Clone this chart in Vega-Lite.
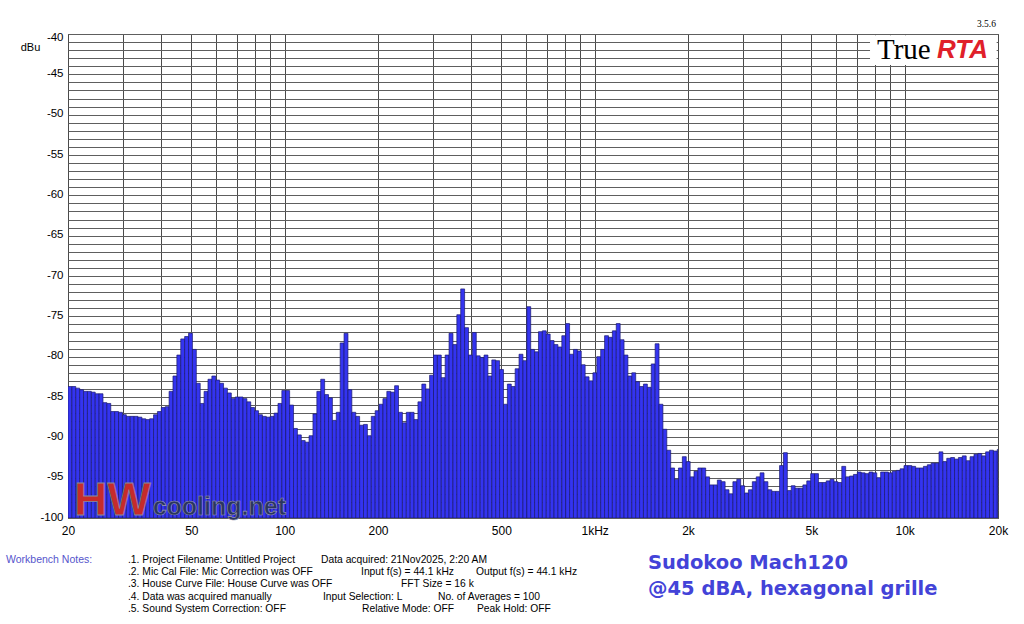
{
  "$schema": "https://vega.github.io/schema/vega-lite/v6.json",
  "width": 930,
  "height": 484,
  "autosize": {"type": "none"},
  "padding": {"left": 68, "top": 34, "right": 26, "bottom": 106},
  "background": "white",
  "config": {
    "view": {"stroke": "#404040", "strokeWidth": 1},
    "font": "Liberation Sans"
  },
  "layer": [
    {
      "data": {
        "values": [
          {"lo": 20, "hi": 20.586, "level": -83.7},
          {"lo": 20.586, "hi": 21.189, "level": -83.7},
          {"lo": 21.189, "hi": 21.81, "level": -83.9},
          {"lo": 21.81, "hi": 22.449, "level": -84.1},
          {"lo": 22.449, "hi": 23.107, "level": -84.3},
          {"lo": 23.107, "hi": 23.784, "level": -84.3},
          {"lo": 23.784, "hi": 24.481, "level": -84.4},
          {"lo": 24.481, "hi": 25.198, "level": -84.6},
          {"lo": 25.198, "hi": 25.937, "level": -84.6},
          {"lo": 25.937, "hi": 26.697, "level": -85.7},
          {"lo": 26.697, "hi": 27.479, "level": -85.8},
          {"lo": 27.479, "hi": 28.284, "level": -86.8},
          {"lo": 28.284, "hi": 29.113, "level": -86.8},
          {"lo": 29.113, "hi": 29.966, "level": -86.9},
          {"lo": 29.966, "hi": 30.844, "level": -87.2},
          {"lo": 30.844, "hi": 31.748, "level": -87.4},
          {"lo": 31.748, "hi": 32.678, "level": -87.4},
          {"lo": 32.678, "hi": 33.636, "level": -87.4},
          {"lo": 33.636, "hi": 34.621, "level": -87.5},
          {"lo": 34.621, "hi": 35.636, "level": -87.7},
          {"lo": 35.636, "hi": 36.68, "level": -87.8},
          {"lo": 36.68, "hi": 37.755, "level": -87.7},
          {"lo": 37.755, "hi": 38.861, "level": -87.2},
          {"lo": 38.861, "hi": 40, "level": -86.8},
          {"lo": 40, "hi": 41.172, "level": -86.3},
          {"lo": 41.172, "hi": 42.378, "level": -86.2},
          {"lo": 42.378, "hi": 43.62, "level": -84.3},
          {"lo": 43.62, "hi": 44.898, "level": -82.4},
          {"lo": 44.898, "hi": 46.214, "level": -79.8},
          {"lo": 46.214, "hi": 47.568, "level": -77.8},
          {"lo": 47.568, "hi": 48.962, "level": -77.5},
          {"lo": 48.962, "hi": 50.397, "level": -77.1},
          {"lo": 50.397, "hi": 51.874, "level": -79.1},
          {"lo": 51.874, "hi": 53.394, "level": -83.3},
          {"lo": 53.394, "hi": 54.959, "level": -85.8},
          {"lo": 54.959, "hi": 56.569, "level": -84.3},
          {"lo": 56.569, "hi": 58.226, "level": -82.8},
          {"lo": 58.226, "hi": 59.932, "level": -82.4},
          {"lo": 59.932, "hi": 61.688, "level": -82.9},
          {"lo": 61.688, "hi": 63.496, "level": -83.3},
          {"lo": 63.496, "hi": 65.357, "level": -83.9},
          {"lo": 65.357, "hi": 67.272, "level": -84.5},
          {"lo": 67.272, "hi": 69.243, "level": -85.2},
          {"lo": 69.243, "hi": 71.272, "level": -85.0},
          {"lo": 71.272, "hi": 73.36, "level": -85.0},
          {"lo": 73.36, "hi": 75.51, "level": -85.2},
          {"lo": 75.51, "hi": 77.722, "level": -85.6},
          {"lo": 77.722, "hi": 80, "level": -86.3},
          {"lo": 80, "hi": 82.344, "level": -86.7},
          {"lo": 82.344, "hi": 84.757, "level": -87.2},
          {"lo": 84.757, "hi": 87.241, "level": -87.4},
          {"lo": 87.241, "hi": 89.797, "level": -87.5},
          {"lo": 89.797, "hi": 92.428, "level": -87.4},
          {"lo": 92.428, "hi": 95.137, "level": -87.0},
          {"lo": 95.137, "hi": 97.925, "level": -85.8},
          {"lo": 97.925, "hi": 100.794, "level": -84.2},
          {"lo": 100.794, "hi": 103.747, "level": -84.2},
          {"lo": 103.747, "hi": 106.787, "level": -86.0},
          {"lo": 106.787, "hi": 109.918, "level": -88.9},
          {"lo": 109.918, "hi": 113.137, "level": -89.7},
          {"lo": 113.137, "hi": 116.452, "level": -90.4},
          {"lo": 116.452, "hi": 119.865, "level": -90.6},
          {"lo": 119.865, "hi": 123.377, "level": -89.8},
          {"lo": 123.377, "hi": 126.992, "level": -87.1},
          {"lo": 126.992, "hi": 130.714, "level": -84.3},
          {"lo": 130.714, "hi": 134.543, "level": -82.8},
          {"lo": 134.543, "hi": 138.486, "level": -84.7},
          {"lo": 138.486, "hi": 142.544, "level": -85.1},
          {"lo": 142.544, "hi": 146.721, "level": -87.9},
          {"lo": 146.721, "hi": 151.02, "level": -86.9},
          {"lo": 151.02, "hi": 155.445, "level": -78.3},
          {"lo": 155.445, "hi": 160, "level": -77.1},
          {"lo": 160, "hi": 164.688, "level": -84.1},
          {"lo": 164.688, "hi": 169.514, "level": -86.9},
          {"lo": 169.514, "hi": 174.482, "level": -87.4},
          {"lo": 174.482, "hi": 179.594, "level": -88.5},
          {"lo": 179.594, "hi": 184.856, "level": -88.4},
          {"lo": 184.856, "hi": 190.274, "level": -89.8},
          {"lo": 190.274, "hi": 195.85, "level": -87.4},
          {"lo": 195.85, "hi": 201.587, "level": -86.7},
          {"lo": 201.587, "hi": 207.494, "level": -85.9},
          {"lo": 207.494, "hi": 213.574, "level": -85.2},
          {"lo": 213.574, "hi": 219.835, "level": -84.3},
          {"lo": 219.835, "hi": 226.274, "level": -84.4},
          {"lo": 226.274, "hi": 232.904, "level": -83.6},
          {"lo": 232.904, "hi": 239.73, "level": -86.9},
          {"lo": 239.73, "hi": 246.754, "level": -88.2},
          {"lo": 246.754, "hi": 253.984, "level": -86.9},
          {"lo": 253.984, "hi": 261.427, "level": -86.9},
          {"lo": 261.427, "hi": 269.086, "level": -87.8},
          {"lo": 269.086, "hi": 276.971, "level": -85.6},
          {"lo": 276.971, "hi": 285.088, "level": -83.4},
          {"lo": 285.088, "hi": 293.442, "level": -84.0},
          {"lo": 293.442, "hi": 302.04, "level": -82.3},
          {"lo": 302.04, "hi": 310.89, "level": -79.8},
          {"lo": 310.89, "hi": 320, "level": -79.8},
          {"lo": 320, "hi": 329.376, "level": -82.6},
          {"lo": 329.376, "hi": 339.027, "level": -79.8},
          {"lo": 339.027, "hi": 348.963, "level": -77.1},
          {"lo": 348.963, "hi": 359.187, "level": -78.5},
          {"lo": 359.187, "hi": 369.712, "level": -74.8},
          {"lo": 369.712, "hi": 380.547, "level": -71.6},
          {"lo": 380.547, "hi": 391.699, "level": -76.4},
          {"lo": 391.699, "hi": 403.174, "level": -79.8},
          {"lo": 403.174, "hi": 414.989, "level": -77.0},
          {"lo": 414.989, "hi": 427.149, "level": -79.9},
          {"lo": 427.149, "hi": 439.67, "level": -80.1},
          {"lo": 439.67, "hi": 452.547, "level": -79.8},
          {"lo": 452.547, "hi": 465.808, "level": -82.4},
          {"lo": 465.808, "hi": 479.459, "level": -80.4},
          {"lo": 479.459, "hi": 493.507, "level": -80.5},
          {"lo": 493.507, "hi": 507.968, "level": -81.6},
          {"lo": 507.968, "hi": 522.854, "level": -85.9},
          {"lo": 522.854, "hi": 538.173, "level": -83.4},
          {"lo": 538.173, "hi": 553.942, "level": -83.7},
          {"lo": 553.942, "hi": 570.176, "level": -81.5},
          {"lo": 570.176, "hi": 586.883, "level": -79.7},
          {"lo": 586.883, "hi": 604.08, "level": -80.5},
          {"lo": 604.08, "hi": 621.779, "level": -73.8},
          {"lo": 621.779, "hi": 640, "level": -79.1},
          {"lo": 640, "hi": 658.75, "level": -79.4},
          {"lo": 658.75, "hi": 678.05, "level": -76.9},
          {"lo": 678.05, "hi": 697.93, "level": -76.8},
          {"lo": 697.93, "hi": 718.37, "level": -77.2},
          {"lo": 718.37, "hi": 739.42, "level": -78.0},
          {"lo": 739.42, "hi": 761.09, "level": -78.5},
          {"lo": 761.09, "hi": 783.4, "level": -78.8},
          {"lo": 783.4, "hi": 806.35, "level": -77.4},
          {"lo": 806.35, "hi": 829.98, "level": -75.9},
          {"lo": 829.98, "hi": 854.3, "level": -79.7},
          {"lo": 854.3, "hi": 879.34, "level": -79.1},
          {"lo": 879.34, "hi": 905.09, "level": -79.3},
          {"lo": 905.09, "hi": 931.62, "level": -81.0},
          {"lo": 931.62, "hi": 958.92, "level": -82.5},
          {"lo": 958.92, "hi": 987.01, "level": -83.0},
          {"lo": 987.01, "hi": 1015.9, "level": -82.0},
          {"lo": 1015.9, "hi": 1045.7, "level": -80.0},
          {"lo": 1045.7, "hi": 1076.3, "level": -79.1},
          {"lo": 1076.3, "hi": 1107.9, "level": -77.4},
          {"lo": 1107.9, "hi": 1140.4, "level": -77.6},
          {"lo": 1140.4, "hi": 1173.8, "level": -76.8},
          {"lo": 1173.8, "hi": 1208.2, "level": -75.9},
          {"lo": 1208.2, "hi": 1243.6, "level": -77.9},
          {"lo": 1243.6, "hi": 1280, "level": -79.8},
          {"lo": 1280, "hi": 1317.5, "level": -82.4},
          {"lo": 1317.5, "hi": 1356.1, "level": -82.0},
          {"lo": 1356.1, "hi": 1395.9, "level": -83.1},
          {"lo": 1395.9, "hi": 1436.7, "level": -83.7},
          {"lo": 1436.7, "hi": 1478.8, "level": -83.4},
          {"lo": 1478.8, "hi": 1522.2, "level": -83.8},
          {"lo": 1522.2, "hi": 1566.8, "level": -80.9},
          {"lo": 1566.8, "hi": 1612.7, "level": -78.4},
          {"lo": 1612.7, "hi": 1660, "level": -85.9},
          {"lo": 1660, "hi": 1708.6, "level": -89.0},
          {"lo": 1708.6, "hi": 1758.7, "level": -91.6},
          {"lo": 1758.7, "hi": 1810.2, "level": -93.8},
          {"lo": 1810.2, "hi": 1863.2, "level": -95.2},
          {"lo": 1863.2, "hi": 1917.8, "level": -93.8},
          {"lo": 1917.8, "hi": 1974, "level": -92.4},
          {"lo": 1974, "hi": 2031.9, "level": -93.0},
          {"lo": 2031.9, "hi": 2091.4, "level": -94.9},
          {"lo": 2091.4, "hi": 2152.7, "level": -94.2},
          {"lo": 2152.7, "hi": 2215.8, "level": -93.8},
          {"lo": 2215.8, "hi": 2280.7, "level": -93.8},
          {"lo": 2280.7, "hi": 2347.5, "level": -94.9},
          {"lo": 2347.5, "hi": 2416.3, "level": -95.9},
          {"lo": 2416.3, "hi": 2487.1, "level": -95.9},
          {"lo": 2487.1, "hi": 2560, "level": -95.3},
          {"lo": 2560, "hi": 2635, "level": -95.5},
          {"lo": 2635, "hi": 2712.2, "level": -96.5},
          {"lo": 2712.2, "hi": 2791.7, "level": -97.0},
          {"lo": 2791.7, "hi": 2873.5, "level": -95.5},
          {"lo": 2873.5, "hi": 2957.7, "level": -95.2},
          {"lo": 2957.7, "hi": 3044.4, "level": -96.0},
          {"lo": 3044.4, "hi": 3133.6, "level": -96.9},
          {"lo": 3133.6, "hi": 3225.4, "level": -96.5},
          {"lo": 3225.4, "hi": 3319.9, "level": -95.5},
          {"lo": 3319.9, "hi": 3417.2, "level": -94.9},
          {"lo": 3417.2, "hi": 3517.4, "level": -94.4},
          {"lo": 3517.4, "hi": 3620.4, "level": -95.5},
          {"lo": 3620.4, "hi": 3726.5, "level": -96.5},
          {"lo": 3726.5, "hi": 3835.7, "level": -96.7},
          {"lo": 3835.7, "hi": 3948.1, "level": -96.7},
          {"lo": 3948.1, "hi": 4063.7, "level": -93.5},
          {"lo": 4063.7, "hi": 4182.8, "level": -91.9},
          {"lo": 4182.8, "hi": 4305.4, "level": -96.6},
          {"lo": 4305.4, "hi": 4431.5, "level": -96.0},
          {"lo": 4431.5, "hi": 4561.4, "level": -96.3},
          {"lo": 4561.4, "hi": 4695.1, "level": -96.3},
          {"lo": 4695.1, "hi": 4832.6, "level": -95.9},
          {"lo": 4832.6, "hi": 4974.2, "level": -95.4},
          {"lo": 4974.2, "hi": 5120, "level": -94.5},
          {"lo": 5120, "hi": 5270, "level": -94.5},
          {"lo": 5270, "hi": 5424.4, "level": -95.6},
          {"lo": 5424.4, "hi": 5583.4, "level": -95.6},
          {"lo": 5583.4, "hi": 5747, "level": -95.4},
          {"lo": 5747, "hi": 5915.4, "level": -95.2},
          {"lo": 5915.4, "hi": 6088.8, "level": -95.5},
          {"lo": 6088.8, "hi": 6267.2, "level": -95.6},
          {"lo": 6267.2, "hi": 6450.8, "level": -93.6},
          {"lo": 6450.8, "hi": 6639.8, "level": -94.9},
          {"lo": 6639.8, "hi": 6834.4, "level": -94.8},
          {"lo": 6834.4, "hi": 7034.8, "level": -94.6},
          {"lo": 7034.8, "hi": 7240.8, "level": -94.3},
          {"lo": 7240.8, "hi": 7452.9, "level": -94.4},
          {"lo": 7452.9, "hi": 7671.3, "level": -94.5},
          {"lo": 7671.3, "hi": 7896.1, "level": -94.3},
          {"lo": 7896.1, "hi": 8127.5, "level": -94.4},
          {"lo": 8127.5, "hi": 8365.6, "level": -95.0},
          {"lo": 8365.6, "hi": 8610.8, "level": -94.3},
          {"lo": 8610.8, "hi": 8863, "level": -94.3},
          {"lo": 8863, "hi": 9122.8, "level": -94.4},
          {"lo": 9122.8, "hi": 9390.1, "level": -94.2},
          {"lo": 9390.1, "hi": 9665.3, "level": -94.1},
          {"lo": 9665.3, "hi": 9948.5, "level": -93.9},
          {"lo": 9948.5, "hi": 10240, "level": -93.5},
          {"lo": 10240, "hi": 10540, "level": -93.5},
          {"lo": 10540, "hi": 10849, "level": -93.6},
          {"lo": 10849, "hi": 11167, "level": -93.8},
          {"lo": 11167, "hi": 11494, "level": -93.8},
          {"lo": 11494, "hi": 11831, "level": -93.6},
          {"lo": 11831, "hi": 12178, "level": -93.4},
          {"lo": 12178, "hi": 12534, "level": -93.2},
          {"lo": 12534, "hi": 12902, "level": -93.2},
          {"lo": 12902, "hi": 13280, "level": -91.8},
          {"lo": 13280, "hi": 13669, "level": -93.0},
          {"lo": 13669, "hi": 14069, "level": -92.6},
          {"lo": 14069, "hi": 14482, "level": -92.5},
          {"lo": 14482, "hi": 14906, "level": -92.7},
          {"lo": 14906, "hi": 15343, "level": -92.5},
          {"lo": 15343, "hi": 15792, "level": -92.3},
          {"lo": 15792, "hi": 16255, "level": -92.9},
          {"lo": 16255, "hi": 16731, "level": -92.4},
          {"lo": 16731, "hi": 17222, "level": -92.1},
          {"lo": 17222, "hi": 17726, "level": -92.0},
          {"lo": 17726, "hi": 18246, "level": -92.3},
          {"lo": 18246, "hi": 18780, "level": -91.8},
          {"lo": 18780, "hi": 19331, "level": -91.6},
          {"lo": 19331, "hi": 19897, "level": -91.7},
          {"lo": 19897, "hi": 20480, "level": -91.5}
        ]
      },
      "mark": {"type": "rect", "fill": "#3434f0", "stroke": "#1a1a70", "strokeWidth": 0.7, "clip": true},
      "encoding": {
        "x": {
          "field": "lo",
          "type": "quantitative",
          "scale": {"type": "log", "domain": [20, 20000]},
          "axis": {
            "title": null,
            "values": [20, 30, 40, 50, 60, 70, 80, 90, 100, 200, 300, 400, 500, 600, 700, 800, 900, 1000, 2000, 3000, 4000, 5000, 6000, 7000, 8000, 9000, 10000, 20000],
            "tickCount": 100,
            "labelExpr": "indexof([20,50,100,200,500], datum.value) >= 0 ? '' + datum.value : datum.value == 1000 ? '1kHz' : indexof([2000,5000,10000,20000], datum.value) >= 0 ? (datum.value / 1000) + 'k' : ''",
            "labelOverlap": false,
            "labelFlush": false,
            "grid": true,
            "gridColor": "#4a4a4a",
            "gridWidth": 1,
            "domain": false,
            "ticks": false,
            "labelPadding": 7,
            "labelFontSize": 12,
            "labelColor": "#000000"
          }
        },
        "x2": {"field": "hi"},
        "y": {
          "field": "level",
          "type": "quantitative",
          "scale": {"domain": [-100, -40], "nice": false},
          "axis": {
            "title": "dBu",
            "titleAngle": 0,
            "titleX": -38,
            "titleY": 13,
            "titleAlign": "center",
            "titleBaseline": "middle",
            "titleFontSize": 11,
            "titleFontWeight": "normal",
            "titleColor": "#000000",
            "values": [-100, -99, -98, -97, -96, -95, -94, -93, -92, -91, -90, -89, -88, -87, -86, -85, -84, -83, -82, -81, -80, -79, -78, -77, -76, -75, -74, -73, -72, -71, -70, -69, -68, -67, -66, -65, -64, -63, -62, -61, -60, -59, -58, -57, -56, -55, -54, -53, -52, -51, -50, -49, -48, -47, -46, -45, -44, -43, -42, -41, -40],
            "tickCount": 100,
            "labelExpr": "datum.value % 5 === 0 ? '' + datum.value : ''",
            "labelOverlap": false,
            "labelFlush": false,
            "labelOffset": {"condition": {"test": "datum.value === -40", "value": 3}, "value": -1},
            "grid": true,
            "gridColor": "#5e5e5e",
            "gridWidth": 1,
            "domain": false,
            "ticks": false,
            "labelPadding": 5,
            "labelFontSize": 11.5,
            "labelColor": "#000000"
          }
        },
        "y2": {"datum": -100}
      }
    },
    {
      "data": {"values": [{"lo": 7730, "hi": 19800, "top": -40.15, "bottom": -43.85}]},
      "mark": {"type": "rect", "fill": "white"},
      "encoding": {
        "x": {"field": "lo", "type": "quantitative", "scale": {"type": "log", "domain": [20, 20000]}},
        "x2": {"field": "hi"},
        "y": {"field": "top", "type": "quantitative", "scale": {"domain": [-100, -40], "nice": false}},
        "y2": {"field": "bottom"}
      }
    },
    {
      "data": {"values": [{"f": 8142, "db": -43.14, "label": "True"}]},
      "mark": {"type": "text", "font": "Liberation Serif", "fontSize": 29, "align": "left", "baseline": "alphabetic", "color": "#000000"},
      "encoding": {
        "x": {"field": "f", "type": "quantitative", "scale": {"type": "log", "domain": [20, 20000]}},
        "y": {"field": "db", "type": "quantitative", "scale": {"domain": [-100, -40], "nice": false}},
        "text": {"field": "label"}
      }
    },
    {
      "data": {"values": [{"f": 12714, "db": -42.94, "label": "RTA"}]},
      "mark": {"type": "text", "font": "Liberation Sans", "fontSize": 26, "fontWeight": "bold", "fontStyle": "italic", "align": "left", "baseline": "alphabetic", "color": "#e0202a"},
      "encoding": {
        "x": {"field": "f", "type": "quantitative", "scale": {"type": "log", "domain": [20, 20000]}},
        "y": {"field": "db", "type": "quantitative", "scale": {"domain": [-100, -40], "nice": false}},
        "text": {"field": "label"}
      }
    },
    {
      "data": {"values": [{"f": 19700, "db": -38.82, "label": "3.5.6"}]},
      "mark": {"type": "text", "font": "Liberation Serif", "fontSize": 9.5, "align": "right", "baseline": "middle", "color": "#000000"},
      "encoding": {
        "x": {"field": "f", "type": "quantitative", "scale": {"type": "log", "domain": [20, 20000]}},
        "y": {"field": "db", "type": "quantitative", "scale": {"domain": [-100, -40], "nice": false}},
        "text": {"field": "label"}
      }
    },
    {
      "data": {"values": [{"f": 20.9, "db": -99.63, "label": "HW"}]},
      "mark": {"type": "text", "font": "Liberation Sans", "fontSize": 46, "fontWeight": "bold", "align": "left", "baseline": "alphabetic", "color": "#c62b2b", "stroke": "#8a8a9a", "strokeWidth": 0.8},
      "encoding": {
        "x": {"field": "f", "type": "quantitative", "scale": {"type": "log", "domain": [20, 20000]}},
        "y": {"field": "db", "type": "quantitative", "scale": {"domain": [-100, -40], "nice": false}},
        "text": {"field": "label"}
      }
    },
    {
      "data": {"values": [{"f": 37.5, "db": -99.63, "label": "cooling.net"}]},
      "mark": {"type": "text", "font": "Liberation Sans", "fontSize": 25, "fontWeight": "bold", "align": "left", "baseline": "alphabetic", "color": "#2a3560", "stroke": "#9a9ab0", "strokeWidth": 0.6},
      "encoding": {
        "x": {"field": "f", "type": "quantitative", "scale": {"type": "log", "domain": [20, 20000]}},
        "y": {"field": "db", "type": "quantitative", "scale": {"domain": [-100, -40], "nice": false}},
        "text": {"field": "label"}
      }
    },
    {
      "data": {"values": [{"f": 12.62, "db": -105.2, "label": "Workbench Notes:"}]},
      "mark": {"type": "text", "font": "Liberation Sans", "fontSize": 10.5, "align": "left", "baseline": "middle", "color": "#5555cc"},
      "encoding": {
        "x": {"field": "f", "type": "quantitative", "scale": {"type": "log", "domain": [20, 20000]}},
        "y": {"field": "db", "type": "quantitative", "scale": {"domain": [-100, -40], "nice": false}},
        "text": {"field": "label"}
      }
    },
    {
      "data": {
        "values": [
          {"f": 31.23, "db": -105.2, "label": ".1. Project Filename: Untitled Project"},
          {"f": 131.0, "db": -105.2, "label": "Data acquired: 21Nov2025, 2:20 AM"},
          {"f": 31.23, "db": -106.69, "label": ".2. Mic Cal File: Mic Correction was OFF"},
          {"f": 176.3, "db": -106.69, "label": "Input f(s) = 44.1 kHz"},
          {"f": 414.2, "db": -106.69, "label": "Output f(s) = 44.1 kHz"},
          {"f": 31.23, "db": -108.18, "label": ".3. House Curve File: House Curve was OFF"},
          {"f": 237.3, "db": -108.18, "label": "FFT Size = 16 k"},
          {"f": 31.23, "db": -109.79, "label": ".4. Data was acquired manually"},
          {"f": 132.9, "db": -109.79, "label": "Input Selection: L"},
          {"f": 312.2, "db": -109.79, "label": "No. of Averages = 100"},
          {"f": 31.23, "db": -111.28, "label": ".5. Sound System Correction: OFF"},
          {"f": 177.6, "db": -111.28, "label": "Relative Mode:  OFF"},
          {"f": 417.2, "db": -111.28, "label": "Peak Hold: OFF"}
        ]
      },
      "mark": {"type": "text", "font": "Liberation Sans", "fontSize": 10.3, "align": "left", "baseline": "middle", "color": "#000000"},
      "encoding": {
        "x": {"field": "f", "type": "quantitative", "scale": {"type": "log", "domain": [20, 20000]}},
        "y": {"field": "db", "type": "quantitative", "scale": {"domain": [-100, -40], "nice": false}},
        "text": {"field": "label"}
      }
    },
    {
      "data": {
        "values": [
          {"f": 1486, "db": -105.58, "label": "Sudokoo Mach120"},
          {"f": 1486, "db": -108.8, "label": "@45 dBA, hexagonal grille"}
        ]
      },
      "mark": {"type": "text", "font": "DejaVu Sans", "fontSize": 19.5, "fontWeight": "bold", "align": "left", "baseline": "middle", "color": "#4343d8"},
      "encoding": {
        "x": {"field": "f", "type": "quantitative", "scale": {"type": "log", "domain": [20, 20000]}},
        "y": {"field": "db", "type": "quantitative", "scale": {"domain": [-100, -40], "nice": false}},
        "text": {"field": "label"}
      }
    }
  ]
}
